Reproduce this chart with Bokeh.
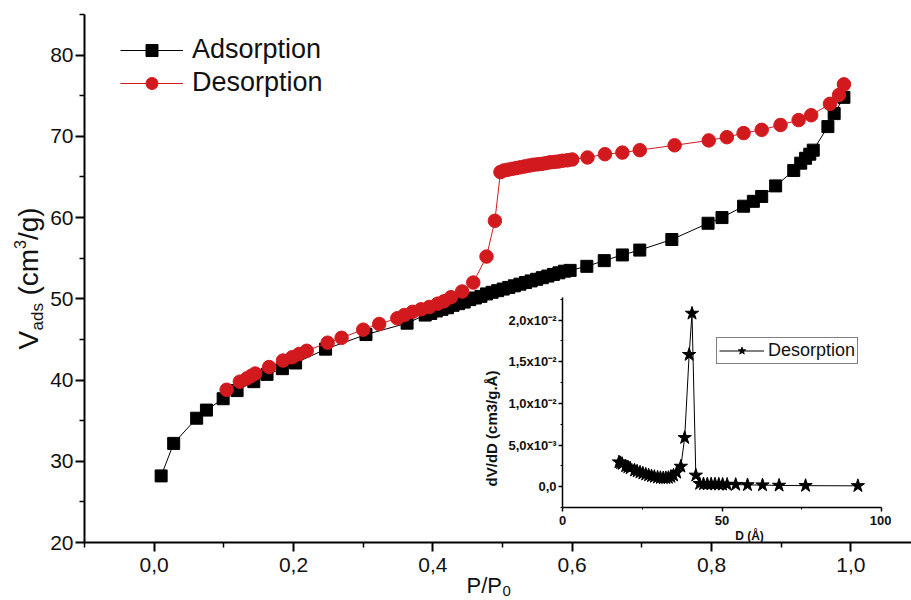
import math
from bokeh.plotting import figure
from bokeh.models import (Range1d, FixedTicker, CustomJSTickFormatter, Legend,
                          LegendItem, Label)
from bokeh.layouts import column
from bokeh.embed import file_html
from bokeh.resources import INLINE

# ---------------- data ----------------
ads_x = [0.010, 0.028, 0.061, 0.075, 0.099, 0.119, 0.143, 0.162, 0.184, 0.203,
         0.246, 0.304, 0.363,
         0.389, 0.397, 0.405, 0.413, 0.421, 0.429, 0.437, 0.445, 0.453, 0.461,
         0.469, 0.477, 0.485, 0.493, 0.501, 0.509, 0.517, 0.525, 0.533, 0.541,
         0.549, 0.557, 0.565, 0.573, 0.581, 0.589, 0.597,
         0.621, 0.646, 0.672, 0.697, 0.743, 0.795, 0.815, 0.846, 0.860, 0.872,
         0.892, 0.918, 0.928, 0.935, 0.941, 0.946, 0.967, 0.976, 0.990]
ads_y = [28.2, 32.2, 35.3, 36.3, 37.7, 38.7, 39.8, 40.7, 41.4, 42.1,
         43.8, 45.6, 47.0,
         48.0, 48.2, 48.5, 48.7, 48.9, 49.2, 49.4, 49.6, 49.9, 50.1,
         50.3, 50.6, 50.8, 51.0, 51.2, 51.4, 51.6, 51.8, 52.0, 52.2,
         52.4, 52.6, 52.8, 53.0, 53.2, 53.4, 53.5,
         54.0, 54.7, 55.4, 56.0, 57.3, 59.3, 60.0, 61.4, 62.0, 62.6,
         63.9, 65.8, 66.7, 67.3, 67.8, 68.3, 71.2, 72.8, 74.8]

des_x = [0.104, 0.123, 0.133, 0.139, 0.145, 0.165, 0.185, 0.198, 0.208, 0.219,
         0.249, 0.269, 0.300, 0.323, 0.349, 0.359, 0.371, 0.383, 0.395, 0.407,
         0.416, 0.426, 0.442, 0.458, 0.477, 0.489, 0.497,
         0.502, 0.508, 0.514, 0.520, 0.526, 0.532, 0.538, 0.544, 0.550, 0.556,
         0.562, 0.568, 0.574, 0.580, 0.586, 0.593, 0.600,
         0.622, 0.647, 0.672, 0.697, 0.747, 0.796, 0.822, 0.846, 0.872, 0.899,
         0.925, 0.943, 0.970, 0.983, 0.990]
des_y = [38.8, 39.8, 40.2, 40.5, 40.8, 41.6, 42.4, 42.8, 43.2, 43.6,
         44.6, 45.2, 46.2, 46.9, 47.6, 48.0, 48.4, 48.7, 49.0, 49.4,
         49.7, 50.2, 50.9, 52.0, 55.2, 59.6, 65.6,
         65.8, 65.9, 66.0, 66.1, 66.2, 66.3, 66.4, 66.5, 66.55, 66.6,
         66.7, 66.8, 66.85, 66.9, 67.0, 67.05, 67.15,
         67.4, 67.8, 68.0, 68.3, 68.9, 69.5, 69.9, 70.4, 70.8, 71.4,
         72.0, 72.6, 74.0, 75.1, 76.4]

psd_d = [17.7, 18.2, 18.7, 19.8, 20.5, 21.2, 22.6, 23.4, 24.3, 25.2, 26.1,
         27.0, 27.9, 28.8, 29.8, 30.7, 31.6, 32.4, 33.2, 34.0, 34.8, 35.8,
         37.1, 38.3, 39.7, 40.6, 41.8, 43.0, 44.2, 45.4, 46.6, 47.8, 49.0,
         50.2, 51.6, 54.3, 58.0, 62.7, 67.9, 76.2, 92.6]
psd_v = [0.00295, 0.00285, 0.00275, 0.00247, 0.00235, 0.00223, 0.00196,
         0.00185, 0.00172, 0.00160, 0.00148, 0.00138, 0.00128, 0.00120,
         0.00112, 0.00107, 0.00104, 0.00105, 0.00108, 0.00120, 0.00136,
         0.00170, 0.00243, 0.00587, 0.01584, 0.02079, 0.00136, 0.00036,
         0.00032, 0.00030, 0.00030, 0.00029, 0.00028, 0.00027, 0.00026,
         0.00025, 0.00021, 0.00019, 0.00015, 0.00012, 0.00010]

main_xticks = [0.0, 0.2, 0.4, 0.6, 0.8, 1.0]
main_xminor = [-0.1, 0.1, 0.3, 0.5, 0.7, 0.9, 1.1]
main_yticks = [20, 30, 40, 50, 60, 70, 80]
main_yminor = [25, 35, 45, 55, 65, 75, 85]
inset_xticks = [0, 50, 100]
inset_xminor = [25, 75]
inset_yticks = [0.0, 0.005, 0.010, 0.015, 0.020]
inset_yminor = [-0.0025, 0.0025, 0.0075, 0.0125, 0.0175, 0.0225]

series_names = ["Adsorption", "Desorption"]
inset_name = "Desorption"

FONT = "Liberation Sans"
RED = "#d21a1e"
TXT = "#111111"


def no_align(fig):
    if hasattr(fig, "frame_align"):
        fig.frame_align = False


# ---------------- main figure ----------------
p = figure(width=911, height=600, x_range=Range1d(-0.1, 1.087),
           y_range=Range1d(20, 85), output_backend="svg",
           toolbar_location=None, min_border_left=84, min_border_right=0,
           min_border_top=14, min_border_bottom=58)
no_align(p)
p.outline_line_color = None
p.grid.visible = False
p.background_fill_color = "white"
p.border_fill_color = "white"

for ax in (p.xaxis[0], p.yaxis[0]):
    ax.axis_line_width = 2
    ax.axis_line_color = "black"
    ax.major_tick_line_width = 2
    ax.minor_tick_line_width = 1.5
    ax.major_tick_in = 0
    ax.major_tick_out = 9
    ax.minor_tick_in = 0
    ax.minor_tick_out = 5
    ax.major_label_text_font = FONT
    ax.major_label_text_font_size = "21px"
    ax.major_label_text_color = TXT

p.xaxis.ticker = FixedTicker(ticks=main_xticks, minor_ticks=main_xminor)
p.yaxis.ticker = FixedTicker(ticks=main_yticks, minor_ticks=main_yminor)
p.xaxis.formatter = CustomJSTickFormatter(code="return tick.toFixed(1).replace('.', ',');")
p.yaxis.formatter = CustomJSTickFormatter(code="return tick.toFixed(0);")
p.xaxis.major_label_standoff = 6
p.yaxis.major_label_standoff = 2

l1 = p.line(ads_x, ads_y, line_color="black", line_width=1)
s1 = p.scatter(ads_x, ads_y, marker="square", size=12, fill_color="black",
               line_color="black")
l2 = p.line(des_x, des_y, line_color=RED, line_width=1)
s2 = p.scatter(des_x, des_y, marker="circle", size=13.5, fill_color=RED,
               line_color=RED)

legend = Legend(items=[LegendItem(label=series_names[0], renderers=[l1, s1]),
                       LegendItem(label=series_names[1], renderers=[l2, s2])],
                location=(36, 444))
legend.glyph_width = 63
legend.glyph_height = 30
legend.label_height = 30
legend.spacing = 2
legend.padding = 0
legend.margin = 0
legend.label_standoff = 9
legend.border_line_color = None
legend.background_fill_alpha = 0
legend.label_text_font = FONT
legend.label_text_font_size = "27px"
legend.label_text_color = TXT
p.add_layout(legend)

# ---------------- inset ----------------
q = figure(width=411, height=252, x_range=Range1d(0, 100),
           y_range=Range1d(-0.0025, 0.0227), output_backend="svg",
           toolbar_location=None, min_border_left=82, min_border_right=10,
           min_border_top=7, min_border_bottom=35,
           styles={"position": "absolute", "left": "480px", "top": "290px"})
no_align(q)
q.background_fill_alpha = 0
q.border_fill_alpha = 0
q.outline_line_color = None
q.grid.visible = False

for ax in (q.xaxis[0], q.yaxis[0]):
    ax.axis_line_width = 1.5
    ax.axis_line_color = "black"
    ax.major_tick_line_width = 1.5
    ax.minor_tick_line_width = 1
    ax.major_tick_in = 0
    ax.major_tick_out = 4
    ax.minor_tick_in = 0
    ax.minor_tick_out = 2
    ax.major_label_text_font = FONT
    ax.major_label_text_font_size = "13px"
    ax.major_label_text_font_style = "bold"
    ax.major_label_text_color = TXT

q.xaxis.ticker = FixedTicker(ticks=inset_xticks, minor_ticks=inset_xminor)
q.yaxis.ticker = FixedTicker(ticks=inset_yticks, minor_ticks=inset_yminor)
q.xaxis.formatter = CustomJSTickFormatter(code="return tick.toFixed(0);")
q.yaxis.formatter = CustomJSTickFormatter(code="""
if (Math.abs(tick) < 1e-12) { return "0,0"; }
const e = Math.floor(Math.log10(Math.abs(tick)) + 1e-9);
const m = tick / Math.pow(10, e);
const sup = {"-": "\u207b", "0": "\u2070", "1": "\u00b9", "2": "\u00b2", "3": "\u00b3",
             "4": "\u2074", "5": "\u2075", "6": "\u2076", "7": "\u2077", "8": "\u2078", "9": "\u2079"};
const es = String(e).split("").map(c => sup[c]).join("");
return m.toFixed(1).replace(".", ",") + "x10" + es;
""")
q.xaxis.major_label_standoff = 4
q.yaxis.major_label_standoff = 2

l3 = q.line(psd_d, psd_v, line_color="black", line_width=1)
s3 = q.scatter(psd_d, psd_v, marker="star", size=14, fill_color="black",
               line_color="black")
leg2 = Legend(items=[LegendItem(label=inset_name, renderers=[l3, s3])],
              location=(154, 143))
leg2.glyph_width = 45
leg2.glyph_height = 19
leg2.label_height = 19
leg2.padding = 2
leg2.margin = 0
leg2.label_standoff = 4
leg2.border_line_color = "black"
leg2.border_line_width = 1.2
leg2.background_fill_color = "white"
leg2.label_text_font = FONT
leg2.label_text_font_size = "18px"
leg2.label_text_color = TXT
q.add_layout(leg2)

# ---------------- overlay for axis titles (pixel space, y down) ----------------
t = figure(width=911, height=600, x_range=Range1d(0, 911),
           y_range=Range1d(600, 0), output_backend="svg",
           toolbar_location=None, min_border=0, x_axis_location=None,
           y_axis_location=None,
           styles={"position": "absolute", "left": "0px", "top": "0px"})
no_align(t)
t.background_fill_alpha = 0
t.border_fill_alpha = 0
t.outline_line_color = None
t.grid.visible = False

# (text, x, y, size, angle)
titles = [
    ("V", 28, 349, "28px", math.pi / 2),
    ("ads", 37, 330, "17px", math.pi / 2),
    ("(cm", 28, 295, "28px", math.pi / 2),
    ("3", 19, 248.5, "16px", math.pi / 2),
    ("/g)", 28, 239.5, "28px", math.pi / 2),
    ("P/P", 466, 585, "22px", 0),
    ("0", 502, 590, "15px", 0),
]
for txt, x, y, fs, ang in titles:
    t.add_layout(Label(x=x, y=y, text=txt, angle=ang, text_align="left",
                       text_baseline="alphabetic", text_font=FONT,
                       text_font_size=fs, text_color=TXT))

t.add_layout(Label(x=491, y=428, text="dV/dD (cm3/g.Å)", angle=math.pi / 2,
                   text_align="center", text_baseline="alphabetic",
                   text_font=FONT, text_font_size="15px",
                   text_font_style="bold", text_color=TXT))
t.add_layout(Label(x=749, y=535, text="D (Å)", text_align="center",
                   text_baseline="alphabetic", text_font=FONT,
                   text_font_size="12px", text_font_style="bold",
                   text_color=TXT))

layout = column(p, q, t)
open("out.html", "w").write(file_html(layout, INLINE))
